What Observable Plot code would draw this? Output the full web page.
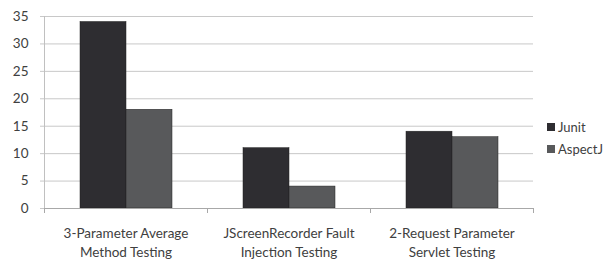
<!DOCTYPE html>
<html>
<head>
<meta charset="utf-8">
<script src="https://cdn.jsdelivr.net/npm/d3@7"></script>
<script src="https://cdn.jsdelivr.net/npm/@observablehq/plot@0.6"></script>
<style>
  html, body { margin: 0; padding: 0; background: #fff; }
  #wrap { position: relative; width: 603px; height: 259px; font-family: Lato, "Liberation Sans", sans-serif; }
  #legend { position: absolute; left: 547px; top: 116px; font-size: 13px; color: #404040; }
  #legend div { display: flex; align-items: center; height: 22px; }
  #legend span.sw { display: inline-block; width: 8px; height: 8px; margin-right: 3px; }
</style>
</head>
<body>
<div id="wrap"><div id="chart"></div><div id="legend"></div></div>
<script>
const categories = ["3-Parameter Average Method Testing", "JScreenRecorder Fault Injection Testing", "2-Request Parameter Servlet Testing"];
const tickLabels = ["3-Parameter Average\nMethod Testing", "JScreenRecorder Fault\nInjection Testing", "2-Request Parameter\nServlet Testing"];
const series = ["Junit", "AspectJ"];
const junit = [34, 11, 14];
const aspectj = [18, 4, 13];
const colors = ["#2e2d31", "#58595b"];
const yTicks = [0, 5, 10, 15, 20, 25, 30, 35];

const data = [];
categories.forEach((c, i) => {
  data.push({category: c, series: "Junit", value: junit[i]});
  data.push({category: c, series: "AspectJ", value: aspectj[i]});
});
const labelOf = new Map(categories.map((c, i) => [c, tickLabels[i]]));

const chart = Plot.plot({
  width: 603,
  height: 259,
  marginLeft: 44,
  marginRight: 70,
  marginTop: 16,
  marginBottom: 51,
  style: {fontFamily: "Lato, 'Liberation Sans', sans-serif", color: "#404040", background: "#fff"},
  fx: {domain: categories, padding: 0, label: null},
  x: {domain: series, paddingInner: 0, paddingOuter: 0.75, axis: null},
  y: {domain: [0, 35], ticks: yTicks, label: null},
  color: {domain: series, range: colors},
  marks: [
    Plot.gridY(yTicks, {stroke: "#c8c8c8", strokeOpacity: 1}),
    Plot.axisY(yTicks, {tickSize: 4, tickPadding: 12, fontSize: 13.5, stroke: "#c8c8c8", fill: "#404040", label: null}),
    Plot.axisFx({anchor: "bottom", tickSize: 0, tickPadding: 16, fontSize: 13.5, lineHeight: 1.4, tickFormat: d => labelOf.get(d), label: null, fill: "#404040"}),
    Plot.barY(data, {fx: "category", x: "series", y: "value", fill: "series", stroke: "#222", strokeWidth: 0.5}),
    Plot.frame({anchor: "bottom", stroke: "#a8a8a8"}),
    Plot.frame({anchor: "left", facetAnchor: "left", stroke: "#c0c0c0", insetBottom: -3}),
    Plot.frame({anchor: "left", stroke: "#a8a8a8", insetTop: 192, insetBottom: -4}),
    Plot.frame({anchor: "right", stroke: "#a8a8a8", insetTop: 192, insetBottom: -4})
  ]
});
document.getElementById("chart").appendChild(chart);

const legend = document.getElementById("legend");
series.forEach((s, i) => {
  const row = document.createElement("div");
  const sw = document.createElement("span");
  sw.className = "sw";
  sw.style.background = colors[i];
  row.appendChild(sw);
  row.appendChild(document.createTextNode(s));
  legend.appendChild(row);
});
</script>
</body>
</html>
